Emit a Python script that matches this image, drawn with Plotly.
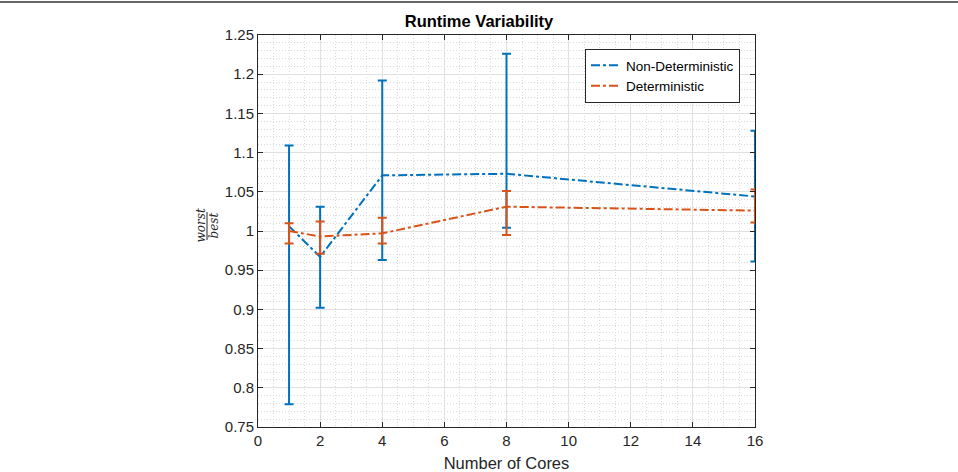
import plotly.graph_objects as go

cores = [1, 2, 4, 8, 16]
nd_mean = [1.006, 0.967, 1.071, 1.073, 1.044]
nd_upper = [1.109, 1.031, 1.192, 1.226, 1.128]
nd_lower = [0.779, 0.902, 0.963, 1.004, 0.961]
d_mean = [1.000, 0.993, 0.997, 1.031, 1.026]
d_upper = [1.010, 1.012, 1.017, 1.051, 1.053]
d_lower = [0.984, 0.971, 0.984, 0.995, 1.011]

BLUE = "#0072BD"
ORANGE = "#D95319"
FONT = "Liberation Sans, Arial, sans-serif"

fig = go.Figure()
for name, mean, up, lo, col in [
    ("Non-Deterministic", nd_mean, nd_upper, nd_lower, BLUE),
    ("Deterministic", d_mean, d_upper, d_lower, ORANGE),
]:
    fig.add_trace(go.Scatter(
        x=cores, y=mean, name=name, mode="lines", cliponaxis=False,
        line=dict(color=col, width=2, dash="dashdot"),
        error_y=dict(type="data", symmetric=False,
                     array=[u - m for u, m in zip(up, mean)],
                     arrayminus=[m - l for m, l in zip(mean, lo)],
                     color=col, thickness=2, width=4.5),
    ))

W, H = 958, 472
L, R, T, B = 258, 203, 35, 45
pw, ph = W - L - R, H - T - B

def px(xp):
    return (xp - L) / pw

def py(yp):
    return (H - yp - B) / ph

axis_common = dict(
    showline=True, linecolor="#262626", linewidth=1, mirror="ticks",
    ticks="inside", ticklen=5, tickcolor="#262626",
    showgrid=True, gridcolor="#e0e0e0", gridwidth=1,
    zeroline=False, automargin=False,
    tickfont=dict(family=FONT, size=15, color="#262626"),
)
minor_common = dict(showgrid=True, griddash="1px,2px", gridcolor="#dadada", gridwidth=1, ticks="")

fig.update_layout(
    width=W, height=H,
    margin=dict(l=L, r=R, t=T, b=B, autoexpand=False),
    paper_bgcolor="white", plot_bgcolor="white",
    title=dict(text="<b>Runtime Variability</b>", x=px((L + W - R) / 2), xanchor="center",
               y=1 - 21 / H, yanchor="middle",
               font=dict(family=FONT, size=16.5, color="#000")),
    xaxis=dict(range=[0, 16], dtick=2, tick0=0,
               title=dict(text="Number of Cores", standoff=10,
                          font=dict(family=FONT, size=16.5, color="#262626")),
               minor=dict(dtick=0.5, **minor_common),
               **axis_common),
    yaxis=dict(range=[0.75, 1.25], dtick=0.05, tick0=0.75,
               minor=dict(dtick=0.01, **minor_common),
               **axis_common),
    legend=dict(x=px(740), y=py(49), xanchor="right", yanchor="top",
                bordercolor="#262626", borderwidth=1, bgcolor="white",
                font=dict(family=FONT, size=13.5, color="#000"),
                tracegroupgap=0, itemwidth=30),
    showlegend=True,
)

# y-axis label as a fraction (worst / best)
fig.add_annotation(text="<i>worst</i>", x=px(200.5), y=py(226), xref="paper", yref="paper",
                   textangle=-90, showarrow=False, xanchor="center", yanchor="middle",
                   font=dict(family="DejaVu Serif, serif", size=12, color="#262626"))
fig.add_annotation(text="<i>best</i>", x=px(213.5), y=py(226), xref="paper", yref="paper",
                   textangle=-90, showarrow=False, xanchor="center", yanchor="middle",
                   font=dict(family="DejaVu Serif, serif", size=12, color="#262626"))
fig.add_shape(type="line", xref="paper", yref="paper",
              x0=px(207), x1=px(207), y0=py(212), y1=py(240),
              line=dict(color="#262626", width=1))

# top separator line across the page
fig.add_shape(type="line", xref="paper", yref="paper",
              x0=px(0), x1=px(W), y0=py(2), y1=py(2),
              line=dict(color="#333333", width=1.5))

fig.write_html("out.html")
